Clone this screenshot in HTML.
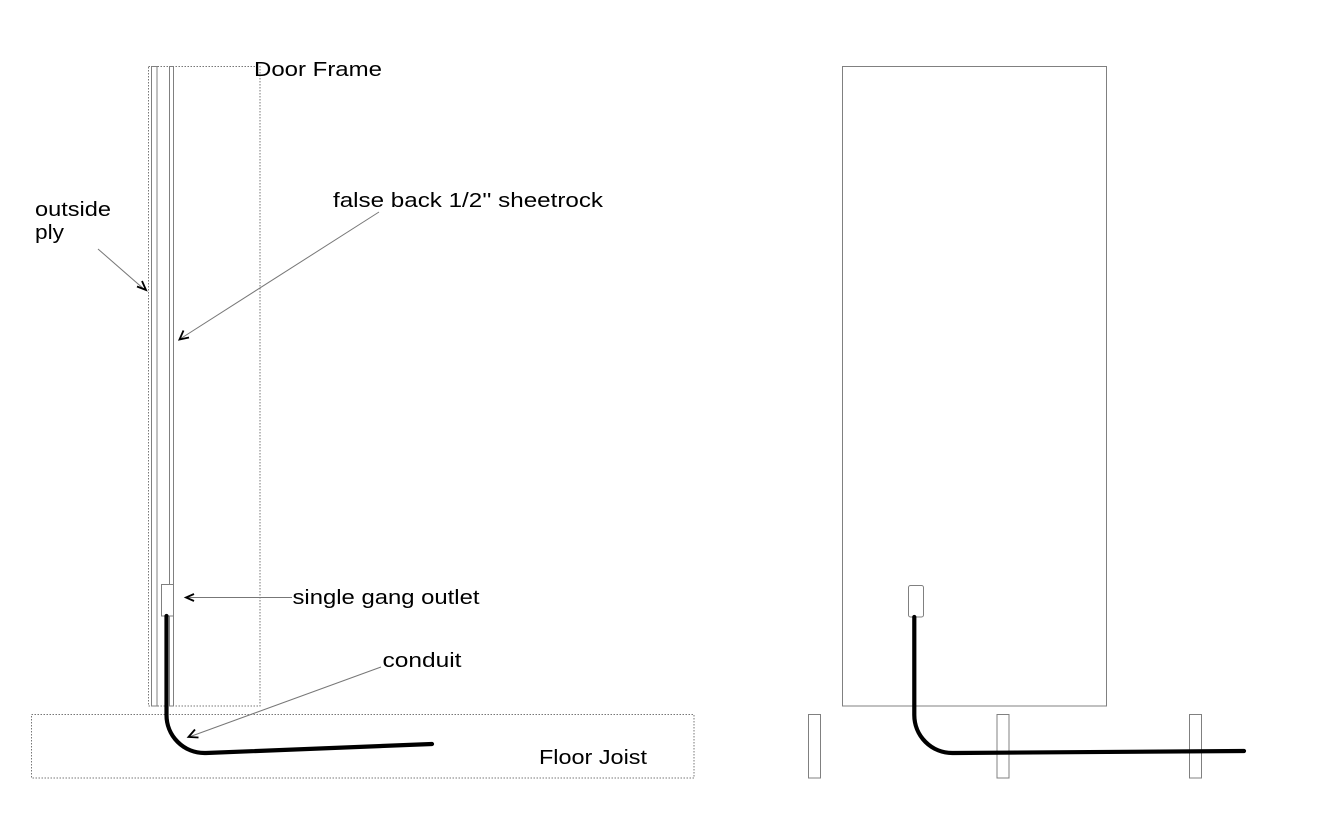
<!DOCTYPE html>
<html>
<head>
<meta charset="utf-8">
<style>
  html, body { margin: 0; padding: 0; background: #ffffff; }
  svg { display: block; }
  text { font-family: "Liberation Sans", Arial, sans-serif; font-size: 20px; fill: #000; }
</style>
</head>
<body>
<svg width="1344" height="816" viewBox="0 0 1344 816" xmlns="http://www.w3.org/2000/svg">
  <rect x="0" y="0" width="1344" height="816" fill="#fff"/>

  <!-- LEFT: door frame (dotted) -->
  <rect x="148.5" y="66.5" width="111.5" height="639.5" fill="none" stroke="#777" stroke-width="1" stroke-dasharray="1.5,1.5"/>
  <!-- outside ply -->
  <rect x="151.5" y="66.5" width="5.5" height="639.5" fill="none" stroke="#808080" stroke-width="1"/>
  <!-- sheetrock -->
  <rect x="169.5" y="66.5" width="4" height="639.5" fill="none" stroke="#808080" stroke-width="1"/>
  <!-- floor joist (dotted) -->
  <rect x="31.5" y="714.5" width="662.5" height="63.5" fill="none" stroke="#777" stroke-width="1" stroke-dasharray="1.5,1.5"/>
  <!-- outlet box -->
  <rect x="161.5" y="584.5" width="12" height="31.5" fill="#fff" stroke="#808080" stroke-width="1"/>

  <!-- conduit left -->
  <path d="M166.5,616 L166.5,715 A38,38 0 0 0 204.5,753 L206,753 L432,744" fill="none" stroke="#000" stroke-width="4.2" stroke-linecap="round" stroke-linejoin="round"/>

  <!-- arrows -->
  <g stroke="#777" stroke-width="1" fill="none">
    <line x1="98" y1="249" x2="145" y2="290"/>
    <line x1="379" y1="212" x2="180" y2="339"/>
    <line x1="292" y1="597.5" x2="186" y2="597.5"/>
    <line x1="381" y1="667" x2="189" y2="737"/>
  </g>
  <g stroke="#000" stroke-width="1.8" fill="none" stroke-linejoin="miter">
    <polyline points="137,286.5 146,290 142,281"/>
    <polyline points="183.5,330.5 179.5,339.5 189,337.5"/>
    <polyline points="194,594 186,597.5 194,601"/>
    <polyline points="195,729.5 188.5,737 198.5,737.5"/>
  </g>

  <!-- labels -->
  <text x="254" y="76" textLength="128" lengthAdjust="spacingAndGlyphs">Door Frame</text>
  <text x="35" y="216" textLength="76" lengthAdjust="spacingAndGlyphs">outside</text>
  <text x="35" y="239" textLength="29" lengthAdjust="spacingAndGlyphs">ply</text>
  <text x="333" y="207" textLength="270" lengthAdjust="spacingAndGlyphs">false back 1/2'' sheetrock</text>
  <text x="292.5" y="604" textLength="187" lengthAdjust="spacingAndGlyphs">single gang outlet</text>
  <text x="382.5" y="667" textLength="79" lengthAdjust="spacingAndGlyphs">conduit</text>
  <text x="539" y="764" textLength="108" lengthAdjust="spacingAndGlyphs">Floor Joist</text>

  <!-- RIGHT: door elevation -->
  <rect x="842.5" y="66.5" width="264" height="639.5" fill="none" stroke="#808080" stroke-width="1"/>
  <!-- joists -->
  <rect x="808.5" y="714.5" width="12" height="63.5" fill="none" stroke="#808080" stroke-width="1"/>
  <rect x="997" y="714.5" width="12" height="63.5" fill="none" stroke="#808080" stroke-width="1"/>
  <rect x="1189.5" y="714.5" width="12" height="63.5" fill="none" stroke="#808080" stroke-width="1"/>
  <!-- outlet -->
  <rect x="908.5" y="585.5" width="15" height="31.5" rx="2" ry="2" fill="#fff" stroke="#808080" stroke-width="1"/>
  <!-- conduit right -->
  <path d="M914.3,617 L914.3,715 A38,38 0 0 0 952.3,753 L954,753 L1244,751" fill="none" stroke="#000" stroke-width="4.2" stroke-linecap="round" stroke-linejoin="round"/>
</svg>
</body>
</html>
